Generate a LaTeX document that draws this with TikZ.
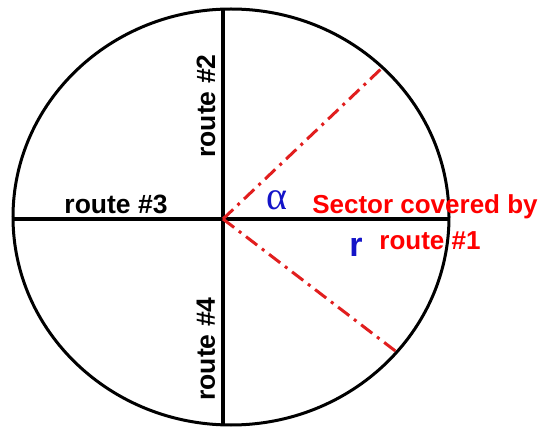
\documentclass[tikz,border=0pt]{standalone}
\usepackage{fontspec}
\setmainfont{Liberation Sans}
\newfontfamily\greekserif{Liberation Serif}
\definecolor{lblred}{RGB}{255,0,0}
\definecolor{linered}{RGB}{225,30,30}
\definecolor{lblblue}{RGB}{20,20,200}
\begin{document}
\begin{tikzpicture}[x=1pt,y=-1pt,
  routelbl/.style={font=\fontsize{26.5}{30}\selectfont\bfseries, inner sep=0pt},
  redlbl/.style={font=\fontsize{26}{30}\selectfont\bfseries, text=lblred, inner sep=0pt},
  axis/.style={line width=4pt, black},
  rim/.style={line width=3pt, black},
  sector/.style={line width=3pt, linered, dash pattern=on 14pt off 6pt on 3pt off 6pt}]
\useasboundingbox (0,0) rectangle (541,430);
\draw[rim] (231,217) ellipse [x radius=218, y radius=208];
\coordinate (O) at (223,219);
\coordinate (T) at (223,9);
\coordinate (B) at (223,425);
\coordinate (L) at (13,219);
\coordinate (R) at (449,219);
\coordinate (P1) at (382,68);
\coordinate (P2) at (398,353);
\draw[axis] (T) -- (B);
\draw[axis] (L) -- (R);
\draw[sector] (O) -- (P1);
\draw[sector] (O) -- (P2);
\node[routelbl, rotate=90] (r2) at (206,106) {route \#2};
\node[routelbl, rotate=90] (r4) at (206,349) {route \#4};
\node[routelbl, anchor=base] (r3) at (116,214) {route \#3};
\node[redlbl, anchor=base] (s1) at (425,214) {Sector covered by};
\node[redlbl, anchor=base] (s2) at (430,250) {route \#1};
\node[font=\fontsize{34}{38}\selectfont\bfseries, text=lblblue, inner sep=0pt, anchor=base] (rr) at (356,257) {r};
\node[font=\greekserif\fontsize{40}{44}\selectfont, text=lblblue, inner sep=0pt, anchor=base] (al) at (277,210) {α};
\end{tikzpicture}
\end{document}
